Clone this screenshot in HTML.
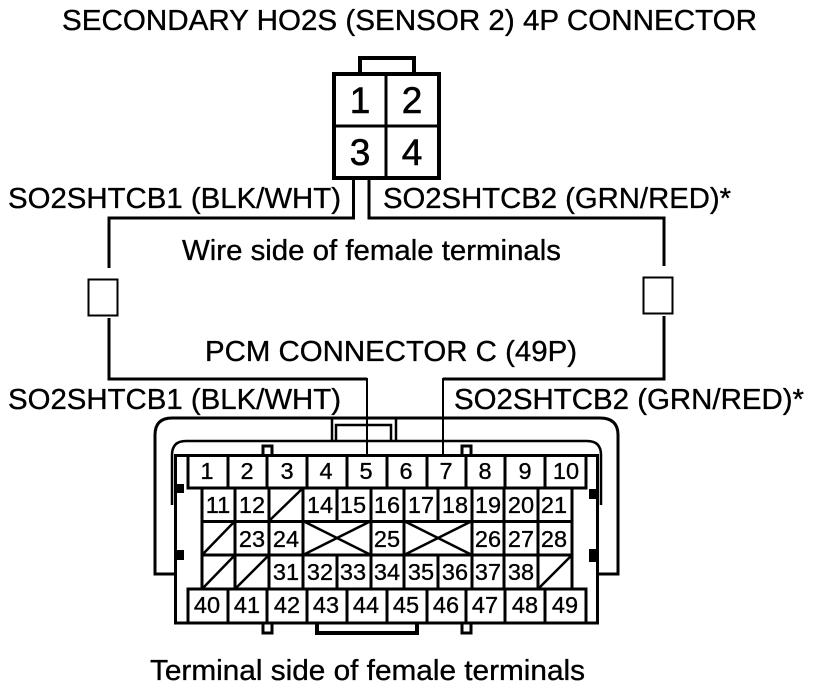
<!DOCTYPE html>
<html><head><meta charset="utf-8"><style>
html,body{margin:0;padding:0;background:#fff;width:816px;height:688px;overflow:hidden}
svg{display:block}
text{font-family:"Liberation Sans",sans-serif;fill:#000;stroke:#000;stroke-width:.35px}
.l{font-size:28.500px}
.n{font-size:23.500px;text-anchor:middle}
.b{font-size:37px;text-anchor:middle;stroke-width:.6px}
</style></head><body>
<svg width="816" height="688" viewBox="0 0 816 688" xmlns="http://www.w3.org/2000/svg">
<g fill="none" stroke="#000">
<!-- top connector -->
<path d="M360 73V58H414V73" stroke-width="4"/>
<rect x="334" y="74" width="105" height="104" stroke-width="4"/>
<path d="M386 74V178M334 126H439" stroke-width="3"/>
<!-- wires -->
<path d="M353.500 178V218H109V268" stroke-width="3"/>
<path d="M369 178V218H664V266" stroke-width="3"/>
<path d="M109 318V379H367" stroke-width="3"/>
<path d="M664 316V379H443" stroke-width="3"/>
<path d="M367 378V455M443 378V455" stroke-width="2"/>
<rect x="88.500" y="279.500" width="29" height="36" stroke-width="2"/>
<rect x="643.500" y="277.500" width="29" height="36" stroke-width="2"/>
<!-- shells -->
<path d="M175 574H155V435Q155 418 172 418H600Q618 418 618 435V574H597" stroke-width="3"/>
<path d="M172 505V455Q172 441 186 441H587Q601 441 601 455V505" stroke-width="2.500"/>
<path d="M332 418V441M336 441V425H391V441M396 418V441" stroke-width="2.500"/>
<!-- tabs -->
<g stroke-width="3">
<path d="M263 455V446H272V455M462 455V446H471V455M263 623V633H272V623M462 623V633H471V623"/>
</g>
<path d="M317 623V633H417V623" stroke-width="4"/>
<!-- body -->
<rect x="175.500" y="455.500" width="422" height="167.500" fill="#fff" stroke-width="3"/>
<g stroke-width="3">
<path d="M188 455V488H586V455M188 623V589H586V623"/>
<path d="M228 455V488M267 455V488M307 455V488M347 455V488M387 455V488M427 455V488M466 455V488M505 455V488M545 455V488"/>
<path d="M228 589V623M267 589V623M307 589V623M347 589V623M387 589V623M427 589V623M466 589V623M505 589V623M545 589V623"/>
<path d="M202 488V589M572 488V589M202 521.500H572M202 555H572"/>
<path d="M235 488V521M269 488V589M303 488V589M337 488V521M371 488V589M404 488V589M438 488V521M472 488V589M504 488V589M538 488V589"/>
<path d="M235 521V589M337 555V589M438 555V589"/>
</g>
<g stroke-width="2.500">
<path d="M269 521L303 488M202 555L235 521M202 589L235 555M235 589L269 555M538 589L572 555"/>
<path d="M303 521L371 555M303 555L371 521M404 521L472 555M404 555L472 521"/>
</g>
</g>
<g fill="#000">
<rect x="175" y="484" width="9" height="9"/>
<rect x="175" y="550" width="9" height="10"/>
<rect x="589" y="489" width="8" height="10"/>
<rect x="589" y="549" width="8" height="13"/>
</g>
<!-- labels -->
<text class="l" x="62" y="30" textLength="695" lengthAdjust="spacingAndGlyphs">SECONDARY HO2S (SENSOR 2) 4P CONNECTOR</text>
<text class="l" x="8" y="208" textLength="333" lengthAdjust="spacingAndGlyphs">SO2SHTCB1 (BLK/WHT)</text>
<text class="l" x="383" y="208" textLength="348" lengthAdjust="spacingAndGlyphs">SO2SHTCB2 (GRN/RED)*</text>
<text class="l" x="182" y="260" textLength="379" lengthAdjust="spacingAndGlyphs">Wire side of female terminals</text>
<text class="l" x="205" y="361" textLength="372" lengthAdjust="spacingAndGlyphs">PCM CONNECTOR C (49P)</text>
<text class="l" x="8" y="409" textLength="333" lengthAdjust="spacingAndGlyphs">SO2SHTCB1 (BLK/WHT)</text>
<text class="l" x="454" y="409" textLength="350" lengthAdjust="spacingAndGlyphs">SO2SHTCB2 (GRN/RED)*</text>
<text class="l" x="150" y="680" textLength="435" lengthAdjust="spacingAndGlyphs">Terminal side of female terminals</text>
<!-- 4P numbers -->
<text class="b" x="360" y="113">1</text><text class="b" x="412" y="113">2</text>
<text class="b" x="360" y="165">3</text><text class="b" x="412" y="165">4</text>
<!-- row 1 -->
<text class="n" x="207" y="479">1</text><text class="n" x="247" y="479">2</text><text class="n" x="287" y="479">3</text><text class="n" x="326" y="479">4</text><text class="n" x="366" y="479">5</text><text class="n" x="406" y="479">6</text><text class="n" x="446" y="479">7</text><text class="n" x="485" y="479">8</text><text class="n" x="525" y="479">9</text><text class="n" x="566" y="479">10</text>
<!-- row 2 -->
<text class="n" x="218" y="513">11</text><text class="n" x="252" y="513">12</text><text class="n" x="320" y="513">14</text><text class="n" x="353" y="513">15</text><text class="n" x="387" y="513">16</text><text class="n" x="421" y="513">17</text><text class="n" x="455" y="513">18</text><text class="n" x="488" y="513">19</text><text class="n" x="521" y="513">20</text><text class="n" x="554" y="513">21</text>
<!-- row 3 -->
<text class="n" x="252" y="547">23</text><text class="n" x="286" y="547">24</text><text class="n" x="387" y="547">25</text><text class="n" x="488" y="547">26</text><text class="n" x="521" y="547">27</text><text class="n" x="554" y="547">28</text>
<!-- row 4 -->
<text class="n" x="286" y="580">31</text><text class="n" x="320" y="580">32</text><text class="n" x="353" y="580">33</text><text class="n" x="387" y="580">34</text><text class="n" x="421" y="580">35</text><text class="n" x="455" y="580">36</text><text class="n" x="488" y="580">37</text><text class="n" x="521" y="580">38</text>
<!-- row 5 -->
<text class="n" x="207" y="613">40</text><text class="n" x="247" y="613">41</text><text class="n" x="287" y="613">42</text><text class="n" x="326" y="613">43</text><text class="n" x="366" y="613">44</text><text class="n" x="406" y="613">45</text><text class="n" x="446" y="613">46</text><text class="n" x="485" y="613">47</text><text class="n" x="525" y="613">48</text><text class="n" x="565" y="613">49</text>
</svg>
</body></html>
